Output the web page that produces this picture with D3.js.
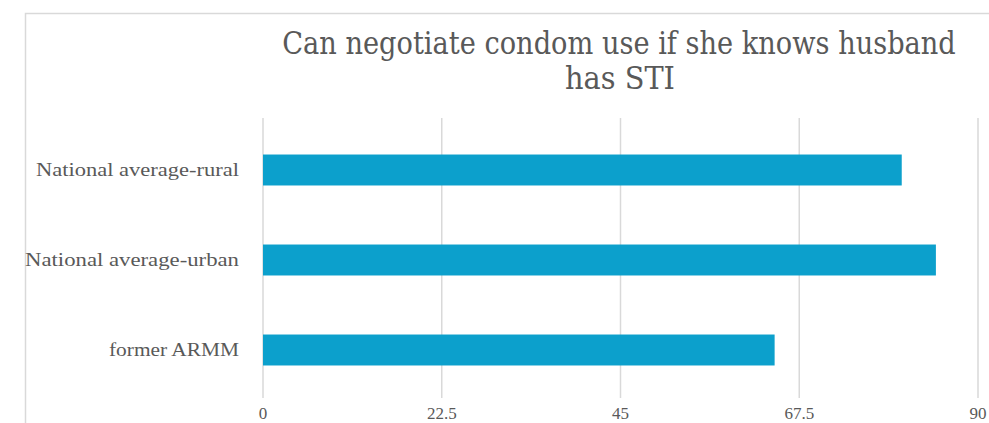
<!DOCTYPE html>
<html><head><meta charset="utf-8">
<script src="https://cdn.jsdelivr.net/npm/d3@7"></script>
<style>body{margin:0;background:#fff}svg{display:block}text{font-family:"Liberation Serif","DejaVu Serif",serif}text.title{font-family:"DejaVu Serif",serif}</style>
</head><body>
<svg id="c" width="989" height="423"></svg>
<script>
const categories = ["National average-rural", "National average-urban", "former ARMM"];
const values = [80.4, 84.7, 64.4];
const tickValues = [0, 22.5, 45, 67.5, 90];
const tickLabels = ["0", "22.5", "45", "67.5", "90"];
const titleLines = ["Can negotiate condom use if she knows husband", "has STI"];

const svg = d3.select("#c");
const grey = "#595959";

// chart frame
svg.append("rect").attr("x", 25.5).attr("y", 13.5).attr("width", 1000).attr("height", 500)
  .attr("fill", "none").attr("stroke", "#d9d9d9").attr("stroke-width", 1.5);

const x = d3.scaleLinear().domain([0, 90]).range([263, 978]);
const y = d3.scaleBand().domain(categories).range([125, 395]).paddingInner(0.656).paddingOuter(0.328);

// gridlines
svg.append("g").selectAll("line").data(tickValues).join("line")
  .attr("x1", d => x(d)).attr("x2", d => x(d))
  .attr("y1", 118).attr("y2", 398)
  .attr("stroke", "#d9d9d9").attr("stroke-width", 1.5);

// bars
svg.append("g").selectAll("rect").data(values).join("rect")
  .attr("x", x(0)).attr("y", (d, i) => y(categories[i]))
  .attr("width", d => x(d) - x(0)).attr("height", y.bandwidth())
  .attr("fill", "#0ca0cc");

// category labels
const labelW = {"National average-rural": 203, "National average-urban": 214, "former ARMM": 130};
svg.append("g").selectAll("text").data(categories).join("text")
  .attr("x", 239).attr("y", d => y(d) + y.bandwidth() / 2)
  .attr("dy", "0.35em").attr("text-anchor", "end")
  .attr("font-size", 18).attr("fill", grey)
  .attr("textLength", d => labelW[d]).attr("lengthAdjust", "spacingAndGlyphs")
  .text(d => d);

// tick labels
svg.append("g").selectAll("text").data(tickValues).join("text")
  .attr("x", d => x(d)).attr("y", 419).attr("text-anchor", "middle")
  .attr("font-size", 17).attr("fill", grey)
  .text((d, i) => tickLabels[i]);

// title: condensed horizontally by a scale transform
const titlePos = [{cx: 619, y: 54, w: 674}, {cx: 620, y: 89, w: 110}];
svg.selectAll("text.title").data(titleLines).join("text")
  .attr("class", "title")
  .attr("x", 0).attr("y", 0)
  .attr("text-anchor", "middle")
  .attr("font-size", 31).attr("fill", grey)
  .text(d => d)
  .each(function(d, i) {
    const nat = this.getComputedTextLength();
    const p = titlePos[i];
    d3.select(this).attr("transform", `translate(${p.cx},${p.y}) scale(${p.w / nat},1)`);
  });
</script>
</body></html>
